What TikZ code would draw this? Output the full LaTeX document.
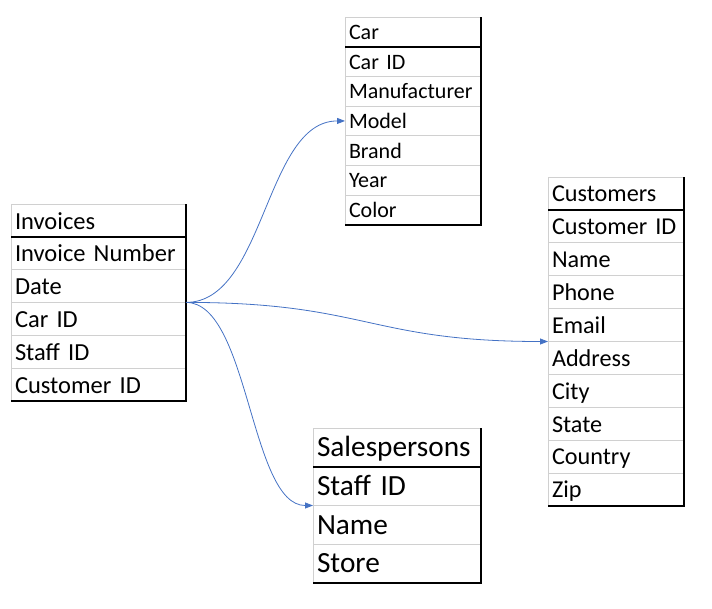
\documentclass[tikz,border=0pt]{standalone}
\usepackage{fontspec}
\setmainfont{Carlito}
\usepackage{xcolor}
\usetikzlibrary{arrows.meta,positioning}
\definecolor{gridgray}{HTML}{D0D0D0}
\definecolor{linkblue}{HTML}{4472C4}

\begin{document}
\begin{tikzpicture}[
  x=1pt, y=-1pt,
  cell/.style={draw=gridgray, line width=0.8pt, outer sep=0pt, inner xsep=4pt, inner ysep=0pt, align=left},
  invcell/.style={cell, text width=167pt, minimum height=32.8pt, text height=19pt, text depth=1.8pt,
    font=\fontsize{24.5}{25}\selectfont},
  carcell/.style={cell, text width=128pt, minimum height=29.7pt, text height=16.5pt, text depth=1.6pt,
    font=\fontsize{22}{23}\selectfont},
  cuscell/.style={cell, text width=128pt, minimum height=32.9pt, text height=18.3pt, text depth=1.8pt,
    font=\fontsize{24.2}{25}\selectfont},
  salcell/.style={cell, text width=160pt, minimum height=38.75pt, text height=20.6pt, text depth=2pt,
    font=\fontsize{29.3}{30}\selectfont},
  border/.style={draw=black, line width=1.6pt},
  link/.style={draw=linkblue, line width=0.8pt, -{Triangle[length=8pt,width=6pt]}}]

  \useasboundingbox (0,0) rectangle (712,608);

  % invoices
  \node[invcell, anchor=north west] (inv-head) at (11,204) {Invoices};
  \node[invcell, below=0pt of inv-head] (inv-num) {Invoice Number};
  \node[invcell, below=0pt of inv-num] (inv-date) {Date};
  \node[invcell, below=0pt of inv-date] (inv-car) {Car ID};
  \node[invcell, below=0pt of inv-car] (inv-staff) {Staff ID};
  \node[invcell, below=0pt of inv-staff] (inv-cust) {Customer ID};
  \draw[border] (inv-head.south west) -- (inv-head.south east);
  \draw[border] (inv-head.north east) -- (inv-cust.south east) -- (inv-cust.south west);

  % car
  \node[carcell, anchor=north west] (car-head) at (345,17) {Car};
  \node[carcell, below=0pt of car-head] (car-id) {Car ID};
  \node[carcell, below=0pt of car-id] (car-make) {Manufacturer};
  \node[carcell, below=0pt of car-make] (car-model) {Model};
  \node[carcell, below=0pt of car-model] (car-brand) {Brand};
  \node[carcell, below=0pt of car-brand] (car-year) {Year};
  \node[carcell, below=0pt of car-year] (car-color) {Color};
  \draw[border] (car-head.south west) -- (car-head.south east);
  \draw[border] (car-head.north east) -- (car-color.south east) -- (car-color.south west);

  % customers
  \node[cuscell, anchor=north west] (cus-head) at (548,177) {Customers};
  \node[cuscell, below=0pt of cus-head] (cus-id) {Customer ID};
  \node[cuscell, below=0pt of cus-id] (cus-name) {Name};
  \node[cuscell, below=0pt of cus-name] (cus-phone) {Phone};
  \node[cuscell, below=0pt of cus-phone] (cus-email) {Email};
  \node[cuscell, below=0pt of cus-email] (cus-addr) {Address};
  \node[cuscell, below=0pt of cus-addr] (cus-city) {City};
  \node[cuscell, below=0pt of cus-city] (cus-state) {State};
  \node[cuscell, below=0pt of cus-state] (cus-country) {Country};
  \node[cuscell, below=0pt of cus-country] (cus-zip) {Zip};
  \draw[border] (cus-head.south west) -- (cus-head.south east);
  \draw[border] (cus-head.north east) -- (cus-zip.south east) -- (cus-zip.south west);

  % salespersons
  \node[salcell, anchor=north west] (sal-head) at (313,428) {Salespersons};
  \node[salcell, below=0pt of sal-head] (sal-staff) {Staff ID};
  \node[salcell, below=0pt of sal-staff] (sal-name) {Name};
  \node[salcell, below=0pt of sal-name] (sal-store) {Store};
  \draw[border] (sal-head.south west) -- (sal-head.south east);
  \draw[border] (sal-head.north east) -- (sal-store.south east) -- (sal-store.south west);

  % links
  \draw[link] (inv-date.south east) .. controls +(79,0) and +(-80,0) .. (car-model.west);
  \draw[link] (inv-date.south east) .. controls +(180,0) and +(-179,0) .. (cus-email.south west);
  \draw[link] (inv-date.south east) .. controls +(63,0) and +(-63,0) .. (sal-staff.south west);
\end{tikzpicture}
\end{document}
